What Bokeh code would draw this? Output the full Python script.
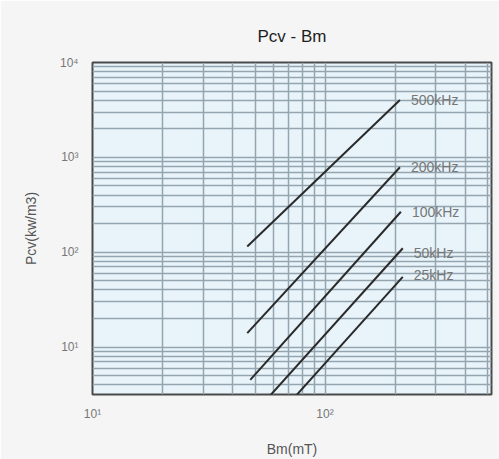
import math
from bokeh.plotting import figure
from bokeh.models import FixedTicker, ColumnDataSource
from bokeh.embed import file_html
from bokeh.resources import INLINE
from bokeh.core.properties import value

# ---- data ----
freq_labels = ["500kHz", "200kHz", "100kHz", "50kHz", "25kHz"]
bm_start = [46.3, 46.3, 47.7, 57.5, 74.4]      # mT
pcv_start = [115.0, 14.0, 4.5, 3.0, 3.0]       # kW/m3
bm_end = [210.0, 210.0, 212.0, 216.0, 216.0]   # mT
pcv_end = [4020.0, 787.0, 267.0, 110.0, 55.0]  # kW/m3

x_major = [10, 100]
y_major = [10, 100, 1000, 10000]
sup = {1: "\u00b9", 2: "\u00b2", 3: "\u00b3", 4: "\u2074"}

FONT = "Liberation Sans"

p = figure(width=499, height=459, x_axis_type="log", y_axis_type="log",
           x_range=(10, 520), y_range=(3.16, 10000),
           output_backend="svg", toolbar_location=None,
           min_border_left=92, min_border_right=8,
           min_border_top=62, min_border_bottom=61,
           title="Pcv - Bm")

p.background_fill_color = "#e8f4fa"
p.border_fill_color = "#f5f5f5"
p.outline_line_color = "#4a4a4a"
p.outline_line_width = 2

p.title.align = "center"
p.title.text_font = FONT
p.title.text_font_size = "17px"
p.title.text_font_style = "normal"
p.title.text_color = "#1e1e1e"
p.title.standoff = 34

# ticks / grid
x_minor = [m * 10 ** e for e in (1, 2) for m in range(2, 10) if m * 10 ** e < 520]
y_minor = [m * 10 ** e for e in (0, 1, 2, 3) for m in range(2, 10) if 3.16 < m * 10 ** e < 10000]
p.xaxis.ticker = FixedTicker(ticks=x_major, minor_ticks=x_minor)
p.yaxis.ticker = FixedTicker(ticks=y_major, minor_ticks=y_minor)

p.xaxis.major_label_overrides = {v: "10" + sup[int(round(math.log10(v)))] for v in x_major}
p.yaxis.major_label_overrides = {v: "10" + sup[int(round(math.log10(v)))] for v in y_major}

for g in (p.xgrid, p.ygrid):
    g.grid_line_color = "#94a5af"
    g.grid_line_width = 1.5
    g.minor_grid_line_color = "#94a5af"
    g.minor_grid_line_width = 1.5

for ax in (p.xaxis, p.yaxis):
    ax.axis_line_color = None
    ax.major_tick_line_color = None
    ax.minor_tick_line_color = None
    ax.major_tick_out = 0
    ax.minor_tick_out = 0
    ax.major_label_text_font = FONT
    ax.major_label_text_font_size = "12px"
    ax.major_label_text_color = "#777777"
    ax.axis_label_text_font = FONT
    ax.axis_label_text_font_size = "14px"
    ax.axis_label_text_font_style = "normal"
    ax.axis_label_text_color = "#555555"

p.xaxis.axis_label = "Bm(mT)"
p.yaxis.axis_label = "Pcv(kw/m3)"
p.xaxis.major_label_standoff = 12
p.yaxis.major_label_standoff = 14
p.xaxis.axis_label_standoff = 17
p.yaxis.axis_label_standoff = 18

# curves
for x0, y0, x1, y1 in zip(bm_start, pcv_start, bm_end, pcv_end):
    p.line([x0, x1], [y0, y1], line_color="#2a2a2a", line_width=2)

src = ColumnDataSource(dict(x=bm_end, y=pcv_end, t=freq_labels,
                            dy=[0, 0, 0, 5, -2]))
p.text("x", "y", text="t", source=src, x_offset=11, y_offset="dy",
       text_font=value(FONT), text_font_size="14px", text_color="#777777",
       text_baseline="middle", text_align="left")

open("out.html", "w").write(file_html(p, INLINE))
